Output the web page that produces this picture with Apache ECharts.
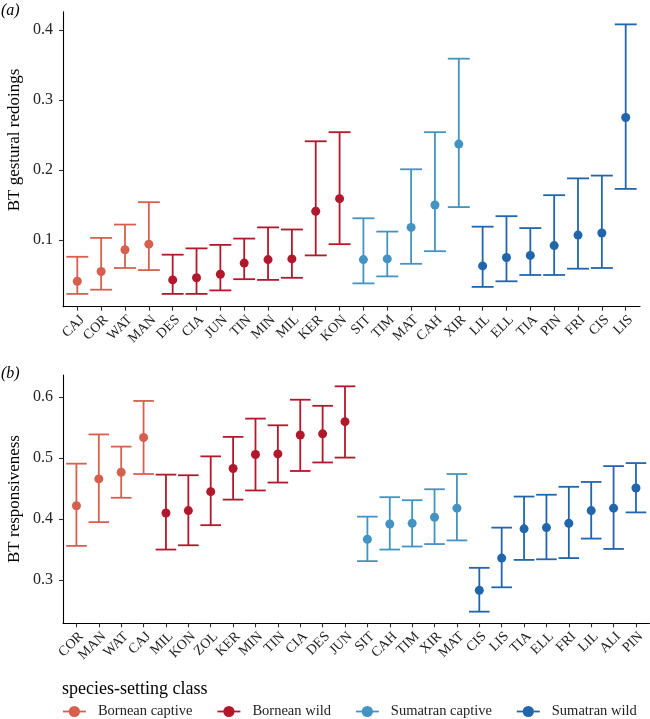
<!DOCTYPE html>
<html><head><meta charset="utf-8">
<script src="https://cdn.jsdelivr.net/npm/echarts@6/dist/echarts.min.js"></script>
<style>html,body{margin:0;padding:0;background:#fff}#c{width:650px;height:719px}</style>
</head><body><div id="c"></div><script>
// ---- data ----
const groupNames = ['Bornean captive', 'Bornean wild', 'Sumatran captive', 'Sumatran wild'];
const groupColors = ['#d6604d', '#b2182b', '#4393c3', '#2166ac'];

const topCats = ['CAJ','COR','WAT','MAN','DES','CIA','JUN','TIN','MIN','MIL','KER','KON','SIT','TIM','MAT','CAH','XIR','LIL','ELL','TIA','PIN','FRI','CIS','LIS'];
const topGroup = [0,0,0,0,1,1,1,1,1,1,1,1,2,2,2,2,2,3,3,3,3,3,3,3];
const topMean = [0.041,0.055,0.086,0.094,0.043,0.046,0.051,0.067,0.072,0.073,0.141,0.159,0.072,0.073,0.118,0.150,0.237,0.063,0.075,0.078,0.092,0.107,0.110,0.275];
const topLow  = [0.023,0.029,0.060,0.057,0.023,0.023,0.028,0.044,0.043,0.046,0.078,0.094,0.038,0.048,0.066,0.084,0.147,0.033,0.041,0.050,0.050,0.059,0.060,0.173];
const topHigh = [0.076,0.103,0.122,0.154,0.079,0.088,0.093,0.102,0.118,0.115,0.241,0.254,0.131,0.112,0.201,0.254,0.359,0.119,0.134,0.117,0.164,0.188,0.192,0.408];
const topTicks = [0.1, 0.2, 0.3, 0.4];

const botCats = ['COR','MAN','WAT','CAJ','MIL','KON','ZOL','KER','MIN','TIN','CIA','DES','JUN','SIT','CAH','TIM','XIR','MAT','CIS','LIS','TIA','ELL','FRI','LIL','ALI','PIN'];
const botGroup = [0,0,0,0,1,1,1,1,1,1,1,1,1,2,2,2,2,2,3,3,3,3,3,3,3,3];
const botMean = [0.422,0.466,0.477,0.534,0.410,0.414,0.445,0.483,0.506,0.507,0.538,0.540,0.560,0.367,0.392,0.393,0.403,0.418,0.283,0.336,0.384,0.386,0.393,0.414,0.418,0.451];
const botLow  = [0.356,0.395,0.435,0.474,0.350,0.357,0.390,0.432,0.447,0.460,0.479,0.493,0.501,0.331,0.350,0.355,0.359,0.365,0.248,0.288,0.333,0.334,0.336,0.368,0.351,0.411];
const botHigh = [0.491,0.539,0.519,0.594,0.473,0.472,0.503,0.535,0.565,0.554,0.596,0.586,0.618,0.404,0.436,0.431,0.449,0.474,0.320,0.386,0.437,0.440,0.453,0.461,0.487,0.492];
const botTicks = [0.3, 0.4, 0.5, 0.6];

const topTitle = 'BT gestural redoings';
const botTitle = 'BT responsiveness';
const legendTitle = 'species-setting class';

// ---- chart ----
const FONT = '"Liberation Serif", "Times New Roman", serif';
const TXT = '#222';

function makeX(cats, gridIndex) {
  const idx = cats.map((_, i) => i);
  return {
    type: 'value', gridIndex, min: -0.6, max: cats.length - 1 + 0.6,
    axisLine: { show: true, onZero: false, lineStyle: { color: '#000', width: 1.1 } },
    splitLine: { show: false },
    axisTick: { show: true, customValues: idx, length: 4, lineStyle: { color: '#333', width: 1.1 } },
    axisLabel: {
      show: true, customValues: idx, formatter: v => cats[Math.round(v)] || '',
      rotate: 45, align: 'right', verticalAlign: 'top', margin: 6,
      fontFamily: FONT, fontSize: 14, color: TXT
    }
  };
}
function makeY(min, max, ticks, gridIndex) {
  return {
    type: 'value', gridIndex, min, max,
    axisLine: { show: true, onZero: false, lineStyle: { color: '#000', width: 1.1 } },
    splitLine: { show: false },
    axisTick: { show: true, customValues: ticks, length: 4, lineStyle: { color: '#333', width: 1.1 } },
    axisLabel: { customValues: ticks, formatter: v => v.toFixed(1), margin: 10, fontFamily: FONT, fontSize: 16, color: TXT }
  };
}

const series = [];
function addPanel(p, cats, grp, mean, low, high) {
  groupNames.forEach((name, g) => {
    const pts = [], bars = [];
    cats.forEach((c, i) => {
      if (grp[i] === g) { pts.push([i, mean[i]]); bars.push([i, low[i], high[i]]); }
    });
    series.push({
      type: 'line', name, xAxisIndex: p, yAxisIndex: p, data: pts,
      symbol: 'circle', symbolSize: 9, showSymbol: true,
      lineStyle: { opacity: 0, width: 1.8, color: groupColors[g] },
      itemStyle: { color: groupColors[g] }, z: 5, silent: true
    });
    series.push({
      type: 'custom', name, xAxisIndex: p, yAxisIndex: p, data: bars, z: 3, silent: true,
      renderItem: (params, api) => {
        const x = api.value(0);
        const lo = api.coord([x, api.value(1)]);
        const hi = api.coord([x, api.value(2)]);
        const half = api.size([0.92, 0])[0] / 2;
        const st = { stroke: groupColors[g], lineWidth: 1.8, fill: null };
        return { type: 'group', children: [
          { type: 'line', shape: { x1: lo[0], y1: lo[1], x2: hi[0], y2: hi[1] }, style: st },
          { type: 'line', shape: { x1: hi[0] - half, y1: hi[1], x2: hi[0] + half, y2: hi[1] }, style: st },
          { type: 'line', shape: { x1: lo[0] - half, y1: lo[1], x2: lo[0] + half, y2: lo[1] }, style: st }
        ]};
      }
    });
  });
}
addPanel(0, topCats, topGroup, topMean, topLow, topHigh);
addPanel(1, botCats, botGroup, botMean, botLow, botHigh);

const chart = echarts.init(document.getElementById('c'), null, { renderer: 'canvas' });
chart.setOption({
  animation: false,
  backgroundColor: '#fff',
  grid: [
    { left: 63, right: 10, top: 11.7, height: 295 },
    { left: 63, right: 0.6, top: 375, height: 248.3 }
  ],
  xAxis: [makeX(topCats, 0), makeX(botCats, 1)],
  yAxis: [makeY(0.0047, 0.4261, topTicks, 0), makeY(0.2289, 0.6366, botTicks, 1)],
  legend: {
    left: 62, top: 704, padding: 0, itemWidth: 23, itemHeight: 14, itemGap: 24,
    data: groupNames, selectedMode: false,
    textStyle: { fontFamily: FONT, fontSize: 14.5, color: TXT, padding: [0, 0, 0, 7] },
    lineStyle: { opacity: 1, width: 1.8 }
  },
  graphic: [
    { type: 'text', x: 1, y: 11, style: { text: '(a)', fontFamily: FONT, fontStyle: 'italic', fontSize: 16, fill: '#000', verticalAlign: 'middle' } },
    { type: 'text', x: 1, y: 374, style: { text: '(b)', fontFamily: FONT, fontStyle: 'italic', fontSize: 16, fill: '#000', verticalAlign: 'middle' } },
    { type: 'text', x: 15, y: 140, rotation: Math.PI / 2, style: { text: topTitle, fontFamily: FONT, fontSize: 17, fill: '#000', align: 'center', verticalAlign: 'middle' } },
    { type: 'text', x: 15, y: 499, rotation: Math.PI / 2, style: { text: botTitle, fontFamily: FONT, fontSize: 17, fill: '#000', align: 'center', verticalAlign: 'middle' } },
    { type: 'text', x: 62, y: 689, style: { text: legendTitle, fontFamily: FONT, fontSize: 18, fill: '#000', verticalAlign: 'middle' } }
  ],
  series
});
</script></body></html>
